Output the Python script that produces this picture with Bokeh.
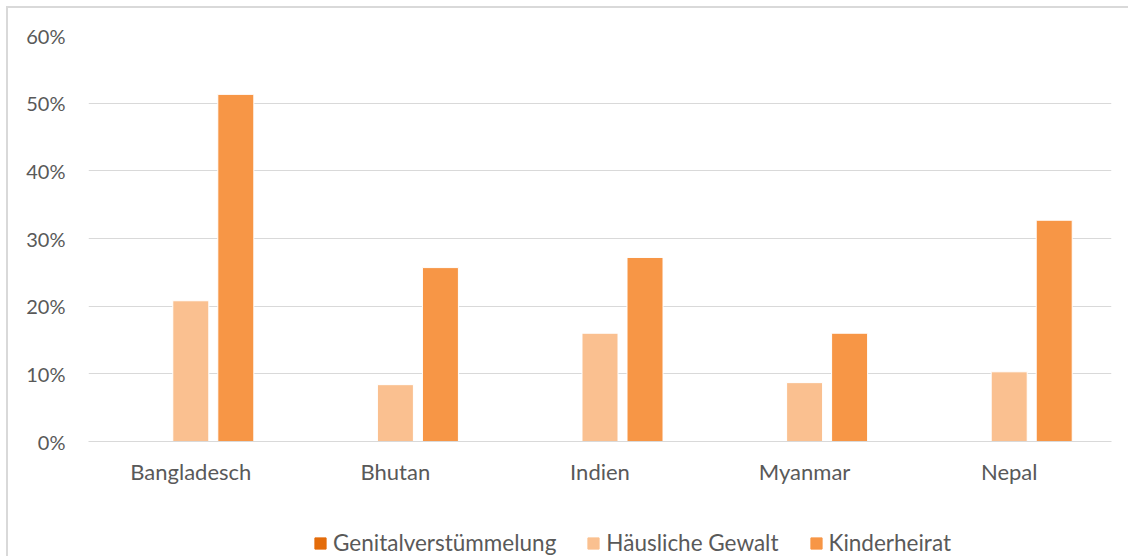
from bokeh.plotting import figure
from bokeh.layouts import column
from bokeh.models import ColumnDataSource, FactorRange, Legend, LegendItem, NumeralTickFormatter, Range1d
from bokeh.transform import dodge
from bokeh.embed import file_html
from bokeh.resources import INLINE

countries = ["Bangladesch", "Bhutan", "Indien", "Myanmar", "Nepal"]
genital = [0, 0, 0, 0, 0]
haeuslich = [0.208, 0.084, 0.160, 0.087, 0.103]
kinder = [0.513, 0.257, 0.272, 0.160, 0.327]
series_names = ["Genitalverstümmelung", "Häusliche Gewalt", "Kinderheirat"]
colors = ["#E46C0A", "#FAC090", "#F79646"]
y_ticks = [0, 0.1, 0.2, 0.3, 0.4, 0.5, 0.6]

src = ColumnDataSource(dict(c=countries, g=genital, h=haeuslich, k=kinder))

FONT = "Lato"
TXT = "#595959"
p = figure(x_range=FactorRange(*countries), y_range=Range1d(0, 0.6),
           width=1120, height=496, output_backend="svg", toolbar_location=None,
           min_border_left=80, min_border_right=17, min_border_top=27, min_border_bottom=63)
p.outline_line_color = None
p.background_fill_color = "white"
p.border_fill_color = "white"

for col, off, color in zip(["g", "h", "k"], [-0.22, 0.0, 0.22], colors):
    p.vbar(x=dodge("c", off, range=p.x_range), top=col, width=0.176, source=src,
           fill_color=color, line_color="white", line_width=1)

p.xgrid.grid_line_color = None
p.ygrid.grid_line_color = "#D9D9D9"
p.ygrid.grid_line_width = 1
p.yaxis.ticker = y_ticks
p.yaxis.formatter = NumeralTickFormatter(format="0%")
p.yaxis.axis_line_color = None
p.yaxis.major_tick_line_color = None
p.yaxis.minor_tick_line_color = None
p.yaxis.major_label_text_font = FONT
p.yaxis.major_label_text_font_size = "20px"
p.yaxis.major_label_text_color = TXT
p.yaxis.major_label_standoff = 17

p.xaxis.axis_line_color = "#D9D9D9"
p.xaxis.major_tick_line_color = None
p.xaxis.minor_tick_line_color = None
p.xaxis.major_label_text_font = FONT
p.xaxis.major_label_text_font_size = "22px"
p.xaxis.major_label_text_color = TXT
p.xaxis.major_label_standoff = 10

# legend strip
pl = figure(width=1120, height=52, output_backend="svg", toolbar_location=None,
            x_range=Range1d(0, 1), y_range=Range1d(0, 1),
            x_axis_location=None, y_axis_location=None,
            min_border_left=0, min_border_right=0, min_border_top=0, min_border_bottom=0)
pl.outline_line_color = None
pl.grid.visible = False
pl.background_fill_color = "white"
pl.border_fill_color = "white"
leg_renderers = []
for color in colors:
    r = pl.vbar(x=[-5], top=[-5], width=0.1, fill_color=color, line_color=color)
    leg_renderers.append(r)

legend = Legend(items=[LegendItem(label=n, renderers=[r]) for n, r in zip(series_names, leg_renderers)],
                orientation="horizontal", location=(225, 0),
                label_text_font=FONT, label_text_font_size="22.5px", label_text_color=TXT,
                glyph_width=14, glyph_height=14, spacing=30, label_standoff=6,
                border_line_color=None, background_fill_alpha=0, margin=0, padding=1)
pl.add_layout(legend, "center")

layout = column(p, pl, spacing=0, margin=(6, 0, 0, 6))
layout.styles = {"border-left": "2px solid #D9D9D9", "border-top": "2px solid #D9D9D9"}

open("out.html", "w").write(file_html(layout, INLINE))
